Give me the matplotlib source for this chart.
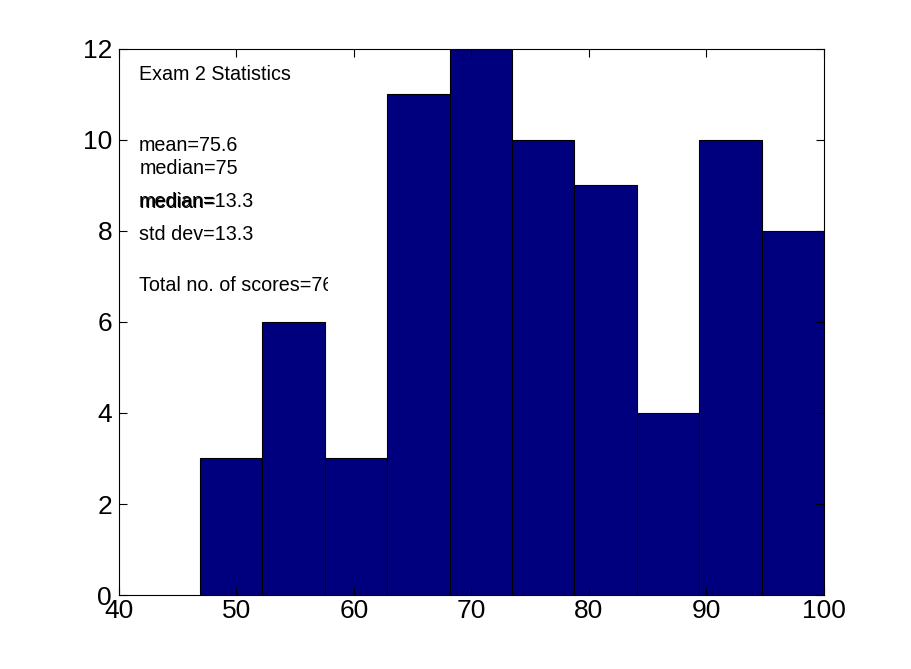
import numpy as np
import matplotlib.pyplot as plt
from matplotlib.patches import Rectangle

plt.rcParams['font.family'] = ['Liberation Sans', 'DejaVu Sans']

score_min = 46.9
score_max = 100
counts = [3, 6, 3, 11, 12, 10, 9, 4, 10, 8]
stats_lines = ["mean=75.6", "median=75", "std dev=13.3"]
title_text = "Exam 2 Statistics"
total_text = "Total no. of scores=76"


def plot():
    edges = np.linspace(score_min, score_max, len(counts) + 1)
    widths = np.diff(edges)

    fig = plt.figure(figsize=(9.11, 6.69), dpi=100)
    ax = fig.add_axes([0.1306, 0.1106, 0.7739, 0.8162])

    ax.bar(edges[:-1], counts, width=widths, align='edge',
           color='#00007f', edgecolor='black', linewidth=0.8)

    ax.set_xlim(40, 100)
    ax.set_ylim(0, 12)
    ax.set_xticks(range(40, 101, 10))
    ax.set_yticks(range(0, 13, 2))
    ax.tick_params(direction='in', top=True, right=True, labelsize=19, length=6)
    ax.tick_params(axis='x', pad=3)
    ax.tick_params(axis='y', pad=5)
    for s in ax.spines.values():
        s.set_linewidth(0.8)

    fs = 14.2
    ax.text(41.7, 11.43, title_text, fontsize=fs, va='center')
    ax.text(41.7, 9.87, stats_lines[0], fontsize=fs, va='center')
    ax.text(41.8, 9.38, stats_lines[1], fontsize=fs, va='center')
    ax.text(41.7, 8.64, "median=13.3", fontsize=fs, va='center')
    ax.text(41.75, 8.62, "median=", fontsize=fs, va='center')
    ax.text(41.7, 7.93, stats_lines[2], fontsize=fs, va='center', zorder=3)
    ax.text(41.7, 6.81, total_text, fontsize=fs, va='center', zorder=3)
    # the original text box cuts the last digit off
    ax.add_patch(Rectangle((57.75, 6.4), 3.0, 0.8, facecolor='white',
                           edgecolor='none', zorder=4))

    plt.savefig("out.png")


if __name__ == '__main__':
    plot()
